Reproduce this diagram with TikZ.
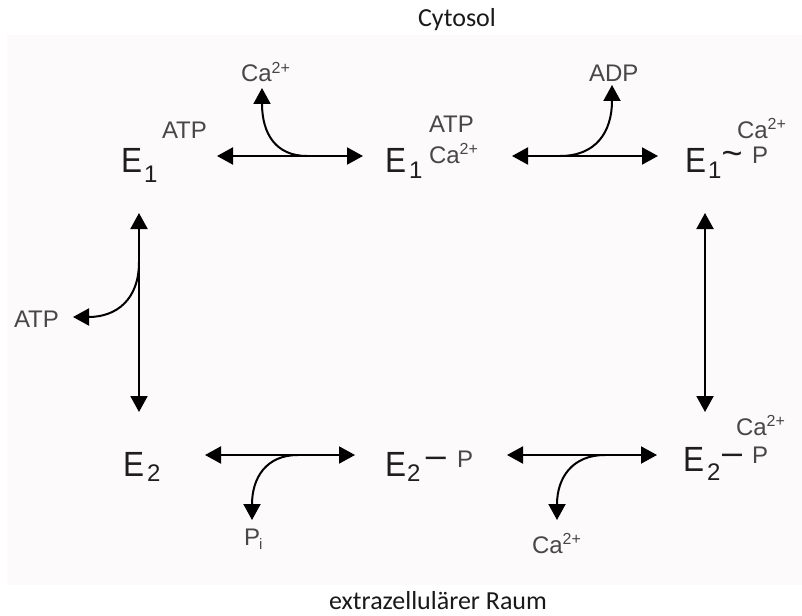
\documentclass[tikz,border=0pt]{standalone}
\usepackage{fontspec}
\setmainfont{Liberation Sans}
\newfontfamily\calib{Carlito}
\usetikzlibrary{arrows.meta}
\definecolor{bgc}{HTML}{FCFAFA}
\definecolor{lab}{HTML}{474747}
\definecolor{enz}{HTML}{1E1E1E}
\newcommand\Caion{Ca\raisebox{9pt}{\fontsize{16}{18}\selectfont 2+}}
\tikzset{
  every node/.style={inner sep=0pt, outer sep=0pt},
  big/.style={font=\fontsize{35}{40}\selectfont, text=enz, anchor=base west, xscale=0.9},
  subs/.style={font=\fontsize{24}{28}\selectfont, text=enz, anchor=base west},
  lbl/.style={font=\fontsize{24}{28}\selectfont, text=lab, anchor=base west},
  tinysub/.style={font=\fontsize{15}{17}\selectfont, text=lab, anchor=base west},
  sym/.style={font=\fontsize{36}{40}\selectfont, text=enz, anchor=base},
  region/.style={font=\calib\fontsize{26}{30}\selectfont, anchor=base, text=black!90},
  tipshape/.tip={Triangle[length=16pt,width=17pt]},
  rx/.style={line width=2pt, draw=black, tipshape-tipshape},
  br/.style={line width=2pt, draw=black, -tipshape},
}
\begin{document}
\begin{tikzpicture}[x=1pt,y=-1pt]
\useasboundingbox (0,0) rectangle (802,615);
\fill[bgc] (7,35) rectangle (802,585);

% region labels
\node[region] (cyt) at (457,27) {Cytosol};
\node[region] (extra) at (438,609) {extrazellulärer Raum};

% top-left: E1 ATP
\node[big] (e1a) at (121,172) {E};
\node[subs] (s1a) at (144,182) {1};
\node[lbl] (atpa) at (162,138) {ATP};
% top-middle: E1 ATP Ca2+
\node[big] (e1b) at (385,172) {E};
\node[subs] (s1b) at (409,178) {1};
\node[lbl] (atpb) at (429,132) {ATP};
\node[lbl] (cab) at (429,163) {\Caion};
% top-right: E1~P Ca2+
\node[big] (e1c) at (685,172) {E};
\node[subs] (s1c) at (708,178) {1};
\node[sym] (tilc) at (732,165) {\char"7E};
\node[lbl] (pc) at (752,163) {P};
\node[lbl] (cac) at (737,138) {\Caion};
% bottom-right: E2-P Ca2+
\node[big] (e2d) at (683,471) {E};
\node[subs] (s2d) at (707,480) {2};
\node[sym] (dashd) at (732,464) {–};
\node[lbl] (pd) at (752,463) {P};
\node[lbl] (cad) at (736,435) {\Caion};
% bottom-middle: E2-P
\node[big] (e2e) at (385,476) {E};
\node[subs] (s2e) at (407,481) {2};
\node[sym] (dashe) at (436,467) {–};
\node[lbl] (pe) at (457,467) {P};
% bottom-left: E2
\node[big] (e2f) at (123,476) {E};
\node[subs] (s2f) at (147,481) {2};

% released / bound species
\node[lbl] (caout) at (241,82) {\Caion};
\node[lbl] (adp) at (589,82) {ADP};
\node[lbl] (atpl) at (14,327) {ATP};
\node[lbl] (pi) at (244,545) {P};
\node[tinysub] (pii) at (259,549) {i};
\node[lbl] (cabot) at (532,553) {\Caion};

% connector end points
\coordinate (t1l) at (217,156); \coordinate (t1r) at (363,156);
\coordinate (t1j) at (307,156); \coordinate (t1tip) at (262,88);
\coordinate (t2l) at (512,156); \coordinate (t2r) at (658,156);
\coordinate (t2j) at (560,156); \coordinate (t2tip) at (612,85);
\coordinate (vlt) at (139,213); \coordinate (vlb) at (139,412);
\coordinate (vlj) at (139,262); \coordinate (vltip) at (73,317);
\coordinate (vrt) at (705,213); \coordinate (vrb) at (705,412);
\coordinate (b1l) at (205,455); \coordinate (b1r) at (355,455);
\coordinate (b1j) at (298,455); \coordinate (b1tip) at (252,520);
\coordinate (b2l) at (507,455); \coordinate (b2r) at (657,455);
\coordinate (b2j) at (605,455); \coordinate (b2tip) at (557,520);

% reactions
\draw[rx] (t1l) -- (t1r);
\draw[br] (t1j) .. controls (276,156) and (262,134) .. (t1tip);
\draw[rx] (t2l) -- (t2r);
\draw[br] (t2j) .. controls (596,156) and (612,132) .. (t2tip);
\draw[rx] (vrt) -- (vrb);
\draw[rx] (vlt) -- (vlb);
\draw[br] (vlj) .. controls (139,300) and (116,317) .. (vltip);
\draw[rx] (b1r) -- (b1l);
\draw[br] (b1j) .. controls (266,455) and (252,478) .. (b1tip);
\draw[rx] (b2r) -- (b2l);
\draw[br] (b2j) .. controls (572,455) and (557,478) .. (b2tip);
\end{tikzpicture}
\end{document}
